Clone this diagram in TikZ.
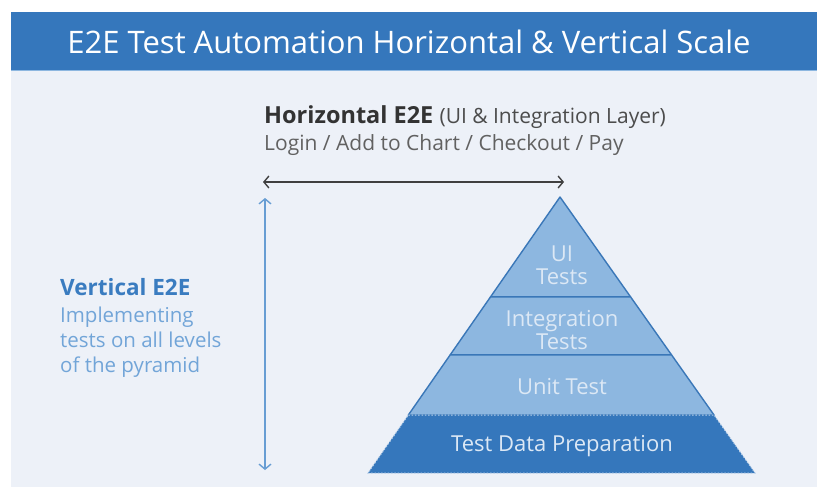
\documentclass[tikz,border=0pt]{standalone}
\usepackage{fontspec}
\setmainfont{Open Sans}
\usepackage{xcolor}
\usetikzlibrary{arrows,arrows.meta,calc}
\definecolor{headblue}{HTML}{3577BC}
\definecolor{paleback}{HTML}{EDF1F8}
\definecolor{layerlight}{HTML}{8DB7E0}
\definecolor{layeredge}{HTML}{3A77B8}
\definecolor{layertext}{HTML}{DCE8F5}
\definecolor{vertblue}{HTML}{3A7CC0}
\definecolor{vertlight}{HTML}{72A5D8}
\tikzstyle{layer}=[fill=layerlight, draw=layeredge, line width=1.4pt, line join=round]
\tikzstyle{baselayer}=[fill=headblue]
\tikzstyle{laytext}=[text=layertext, font=\fontsize{22}{23}\selectfont, align=center, inner sep=0pt]
\tikzstyle{scalearrow}=[<->, >={Straight Barb[length=5pt,width=12pt]}, line width=1.4pt]
\newcommand{\layerlabel}[3]{
 \node[laytext] (#1) at #2 {#3};
}

\begin{document}
\begin{tikzpicture}[x=1pt, y=-1pt]
 \useasboundingbox (0,0) rectangle (817,487);
 \fill[paleback] (11,71) rectangle (817,487);
 \fill[headblue] (11,12) rectangle (817,71);
 \draw[layerlight, line width=1pt] (11,71) -- (817,71);
 \node[text=white, font=\fontsize{31}{34}\selectfont] (title) at (409,42)
  {E2E Test Automation Horizontal \& Vertical Scale};
%
 \node[anchor=base west, inner sep=0pt, text=black!80, font=\fontsize{23.5}{26}\selectfont]
  (horiz) at (264,123) {\textbf{Horizontal E2E} {\fontsize{21}{24}\selectfont\color{black!70}(UI \& Integration Layer)}};
 \node[anchor=base west, inner sep=0pt, text=black!62, font=\fontsize{21}{24}\selectfont]
  (flow) at (264,150) {Login / Add to Chart / Checkout / Pay};
 \node[anchor=base west, inner sep=0pt, text=vertblue, font=\bfseries\fontsize{22.5}{24}\selectfont]
  (vert) at (60,295) {Vertical E2E};
 \node[anchor=base west, inner sep=0pt, text=vertlight, font=\fontsize{20.5}{25}\selectfont]
  (vertdesc1) at (60,322) {Implementing};
 \node[anchor=base west, inner sep=0pt, text=vertlight, font=\fontsize{20.5}{25}\selectfont]
  (vertdesc2) at (60,347) {tests on all levels};
 \node[anchor=base west, inner sep=0pt, text=vertlight, font=\fontsize{20.5}{25}\selectfont]
  (vertdesc3) at (60,372) {of the pyramid};
%
 \coordinate (apex) at (560,197);
 \coordinate (bl) at (368,473);
 \coordinate (br) at (755,473);
 \foreach \t/\n in {0.362/a, 0.572/b, 0.790/c}{
  \coordinate (l\n) at ($(apex)!\t!(bl)$);
  \coordinate (r\n) at ($(apex)!\t!(br)$);
 }
 \draw[layer] (apex) -- (ra) -- (la) -- cycle;
 \draw[layer] (la) -- (ra) -- (rb) -- (lb) -- cycle;
 \draw[layer] (lb) -- (rb) -- (rc) -- (lc) -- cycle;
 \fill[baselayer] (lc) -- (rc) -- (br) -- (bl) -- cycle;
 \draw[white!65!headblue, line width=1pt, dash pattern=on 1.5pt off 1.8pt]
  (lc) -- (rc) -- (br) -- (bl) -- cycle;
%
 \layerlabel{ui}{(562,265)}{UI\\Tests}
 \layerlabel{integ}{(562,330)}{Integration\\Tests}
 \layerlabel{unit}{(562,387)}{Unit Test}
 \layerlabel{prep}{(562,446)}{Test Data Preparation}
%
 \coordinate (hleft) at (263,182);
 \coordinate (hright) at (564,182);
 \coordinate (vtop) at (265,198);
 \coordinate (vbot) at (265,470);
 \draw[scalearrow, black!75] (hleft) -- (hright);
 \draw[scalearrow, vertlight!80!vertblue] (vtop) -- (vbot);
\end{tikzpicture}
\end{document}
